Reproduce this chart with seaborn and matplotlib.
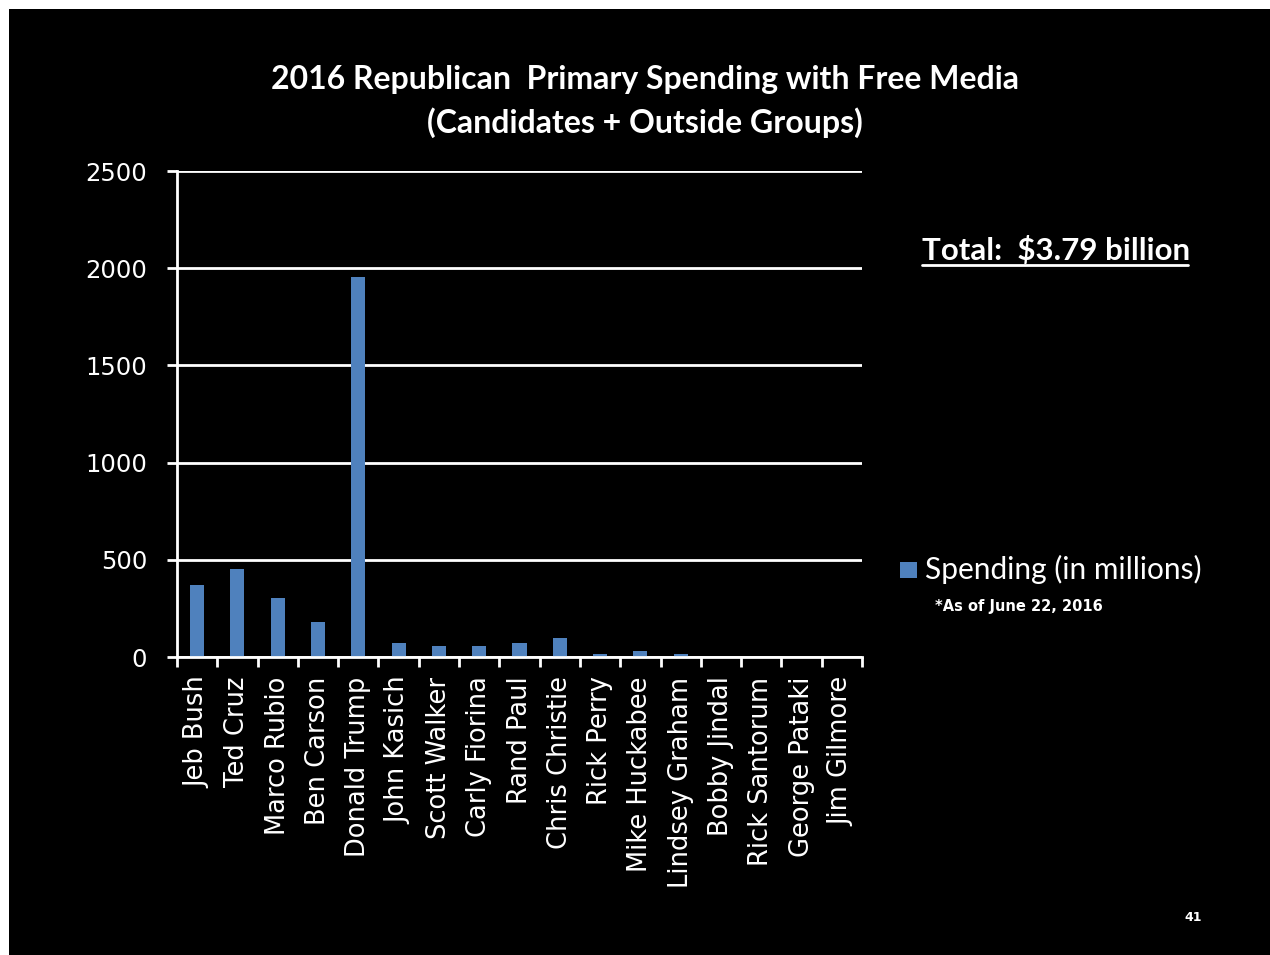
import matplotlib
matplotlib.use("Agg")
import matplotlib.pyplot as plt
import seaborn as sns
import pandas as pd
from matplotlib.patches import Rectangle
from matplotlib.lines import Line2D

candidates = ["Jeb Bush", "Ted Cruz", "Marco Rubio", "Ben Carson", "Donald Trump",
              "John Kasich", "Scott Walker", "Carly Fiorina", "Rand Paul", "Chris Christie",
              "Rick Perry", "Mike Huckabee", "Lindsey Graham", "Bobby Jindal",
              "Rick Santorum", "George Pataki", "Jim Gilmore"]
spending = [372, 455, 305, 182, 1955, 72, 58, 58, 72, 100, 15, 32, 15, 0, 0, 0, 0]
y_ticks = [0, 500, 1000, 1500, 2000, 2500]

df = pd.DataFrame({"Candidate": candidates, "Spending": spending})

sns.set_theme(style="dark")
plt.rcParams['font.family'] = ['Lato', 'DejaVu Sans']

W, H = 1270, 955
fig = plt.figure(figsize=(12.7, 9.55), dpi=100, facecolor="white")
fig.patches.append(Rectangle((9 / W, 0), 1 - 9 / W, 1 - 9 / H, transform=fig.transFigure,
                             facecolor="black", edgecolor="none", zorder=-10))

ax = fig.add_axes([177 / W, 1 - 657 / H, (862 - 177) / W, (657 - 171) / H])
ax.set_facecolor("black")
sns.barplot(data=df, x="Candidate", y="Spending", color="#4F81BD", width=0.35,
            saturation=1, ax=ax, zorder=3, edgecolor="none", linewidth=0)

ax.set_ylim(0, 2500)
ax.set_xlim(-0.5, len(candidates) - 0.5)
ax.set_yticks(y_ticks)
ax.set_yticklabels([str(v) for v in y_ticks], color="white", fontsize=17.5,
                   family=['DejaVu Sans'])
ax.grid(axis="y", color="white", linewidth=2, zorder=1)
ax.grid(axis="x", visible=False)
ax.tick_params(axis="y", which="major", length=7.5, width=2, color="white",
               direction="out", pad=14, left=True)
ax.set_xticks(range(len(candidates)))
ax.set_xticklabels(candidates, rotation=90, color="white", fontsize=18.5,
                   family=['DejaVu Sans'])
ax.tick_params(axis="x", which="major", length=0, pad=14)
ax.set_xticks([i - 0.5 for i in range(len(candidates) + 1)], minor=True)
ax.tick_params(axis="x", which="minor", length=7.5, width=2, color="white",
               direction="out", bottom=True)
for s in ["top", "right"]:
    ax.spines[s].set_visible(False)
for s in ["left", "bottom"]:
    ax.spines[s].set_color("white")
    ax.spines[s].set_linewidth(2)
    ax.spines[s].set_zorder(4)
ax.set_xlabel("")
ax.set_ylabel("")

fig.text(645 / W, 1 - 80 / H, "2016 Republican  Primary Spending with Free Media",
         ha="center", va="center", color="white", fontsize=23, fontweight="bold")
fig.text(645 / W, 1 - 123 / H, "(Candidates + Outside Groups)",
         ha="center", va="center", color="white", fontsize=23, fontweight="bold")

fig.text(922 / W, 1 - 250 / H, "Total:  $3.79 billion", ha="left", va="center",
         color="white", fontsize=22.5, fontweight="bold")
fig.lines.append(Line2D([922 / W, 1188 / W], [1 - 265 / H, 1 - 265 / H],
                        transform=fig.transFigure, color="white", linewidth=2))

fig.patches.append(Rectangle((900 / W, 1 - 578 / H), 17 / W, 16 / H,
                             transform=fig.transFigure, facecolor="#4F81BD",
                             edgecolor="none"))
fig.text(925 / W, 1 - 569 / H, "Spending (in millions)", ha="left", va="center",
         color="white", fontsize=21.5)
fig.text(935 / W, 1 - 607 / H, "*As of June 22, 2016", ha="left", va="center",
         color="white", fontsize=10.5, fontweight="bold", family=['DejaVu Sans'])
fig.text(1193 / W, 1 - 917 / H, "41", ha="center", va="center",
         color="white", fontsize=9, fontweight="bold", family=['DejaVu Sans'])

fig.savefig("out.png", dpi=100, facecolor=fig.get_facecolor())
